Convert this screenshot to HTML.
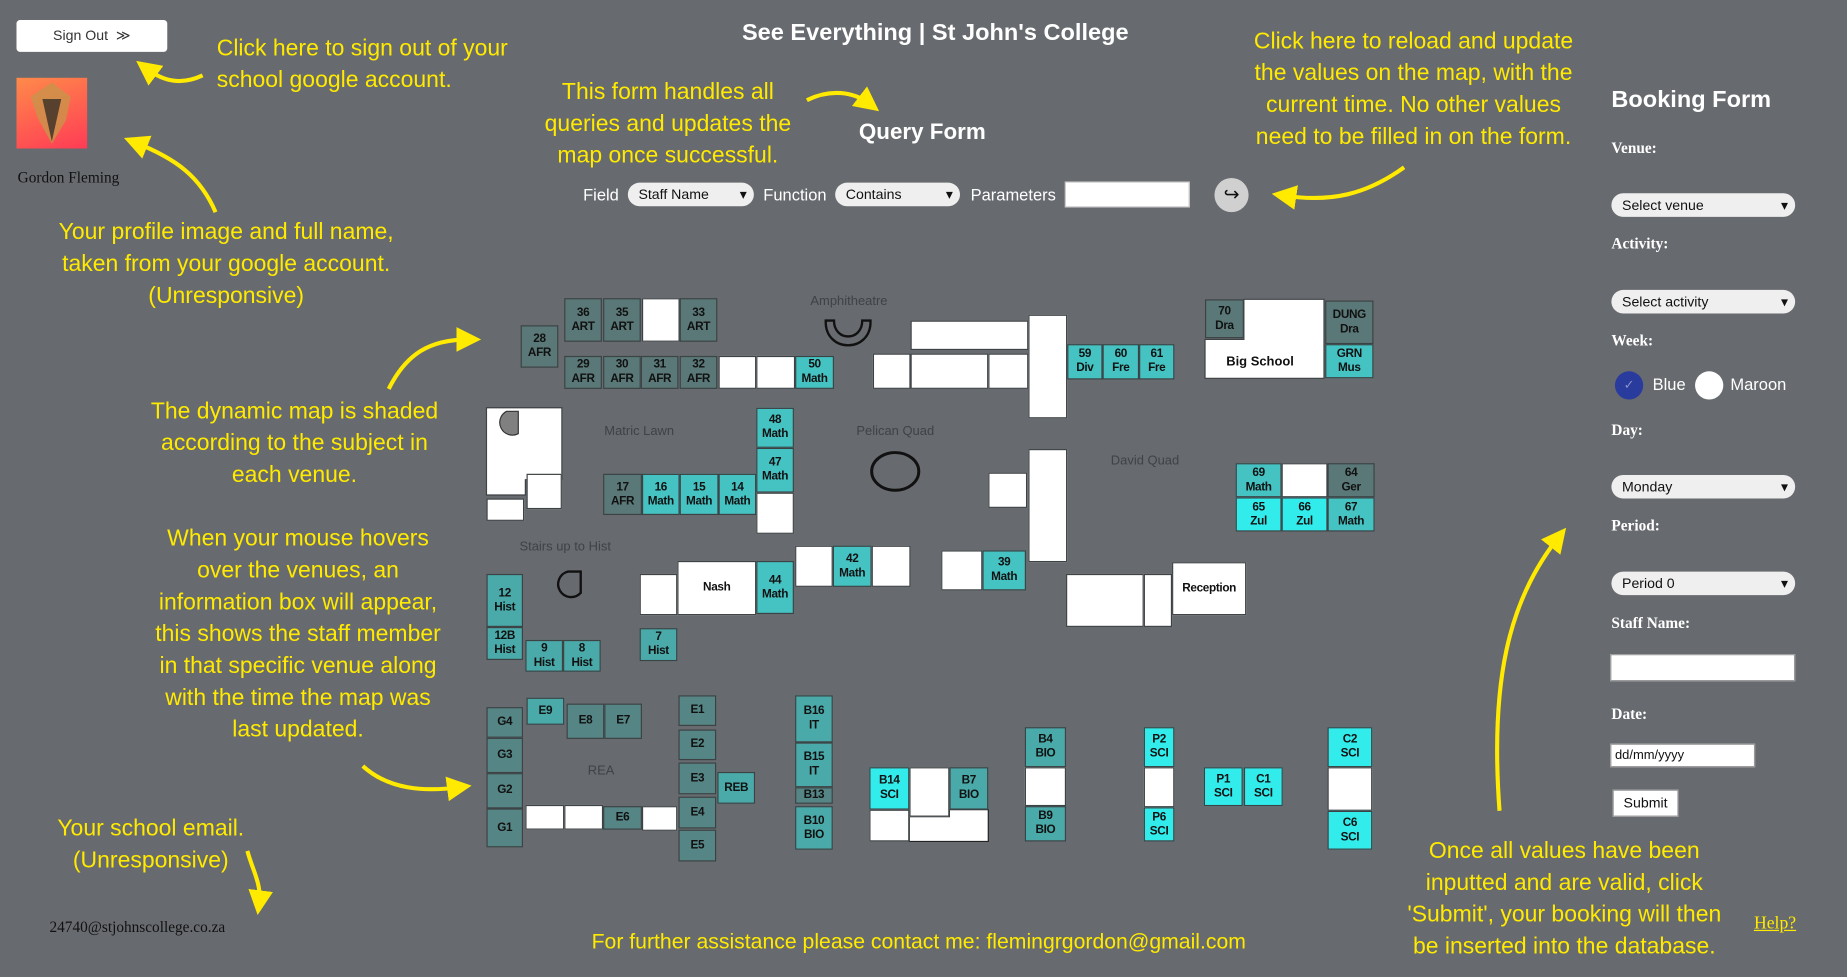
<!DOCTYPE html>
<html><head><meta charset="utf-8"><style>
html,body{margin:0;padding:0;width:1847px;height:977px;overflow:hidden;background:#676a6e}
#root{position:absolute;left:0;top:0;width:1568px;height:829px;transform:scale(1.17793,1.17853);transform-origin:0 0;font-family:"Liberation Sans",sans-serif}
.abs{position:absolute}
.y{position:absolute;color:#ffea00;font-size:19.5px;line-height:27px;text-align:center;white-space:nowrap}
.room{position:absolute;box-sizing:border-box;border:1px solid #3d4244;font-weight:bold;font-size:10px;line-height:12px;color:#111;display:flex;align-items:center;justify-content:center;text-align:center;letter-spacing:-0.3px}
.lbl{position:absolute;color:#3e4346;font-size:11px;white-space:nowrap}
.sel{position:absolute;background:#efefef;border-radius:10px;font-size:12px;color:#111;box-sizing:border-box;padding-left:9px;line-height:20px;height:20px}
.sel:after{content:"▾";position:absolute;right:6px;top:0;font-size:12px}
.fl{position:absolute;color:#fff;font-family:"Liberation Serif",serif;font-weight:bold;font-size:13px}
.ql{position:absolute;color:#fff;font-size:14px}
</style></head><body>
<div id="root">
<div class="abs" style="left:14px;top:17px;width:128px;height:27px;background:#fff;border-radius:3px;font-size:12px;color:#333;text-align:center;line-height:27px">Sign Out &nbsp;≫</div>
<div class="abs" style="left:14px;top:66px;width:60px;height:60px;background:linear-gradient(160deg,#ff8a4a,#ff3b55)">
<svg width="60" height="60"><polygon points="30,4 46,16 42,36 30,56 18,34 12,16" fill="#c9934a" opacity=".8"/><polygon points="22,18 38,18 30,54" fill="#222" opacity=".7"/></svg></div>
<div class="abs" style="left:15px;top:143px;font-family:'Liberation Serif',serif;font-size:13px;color:#111">Gordon Fleming</div>
<div class="abs" style="left:42px;top:779px;font-family:'Liberation Serif',serif;font-size:13px;color:#111">24740@stjohnscollege.co.za</div>

<div class="abs" style="left:594px;top:17px;width:400px;text-align:center;color:#fff;font-weight:bold;font-size:20px">See Everything | St John's College</div>
<div class="abs" style="left:683px;top:102px;width:200px;text-align:center;color:#fff;font-weight:bold;font-size:19px">Query Form</div>
<div class="ql" style="left:495px;top:157px">Field</div>
<div class="sel" style="left:533px;top:155px;width:107px">Staff Name</div>
<div class="ql" style="left:648px;top:157px">Function</div>
<div class="sel" style="left:709px;top:155px;width:106px">Contains</div>
<div class="ql" style="left:824px;top:157px">Parameters</div>
<div class="abs" style="left:904px;top:154px;width:106px;height:22px;background:#fff;border:1px solid #ccc;box-sizing:border-box"></div>
<div class="abs" style="left:1031px;top:151px;width:29px;height:29px;border-radius:50%;background:#d0d0d0;text-align:center;line-height:29px;font-size:16px;color:#111">↪</div>

<div class="abs" style="left:1368px;top:74px;color:#fff;font-weight:bold;font-size:20px">Booking Form</div>
<div class="fl" style="left:1368px;top:118px">Venue:</div>
<div class="sel" style="left:1368px;top:164px;width:156px">Select venue</div>
<div class="fl" style="left:1368px;top:199px">Activity:</div>
<div class="sel" style="left:1368px;top:246px;width:156px">Select activity</div>
<div class="fl" style="left:1368px;top:281px">Week:</div>
<div class="abs" style="left:1371px;top:315px;width:24px;height:24px;border-radius:50%;background:#2a3b9e;color:#8890c8;font-size:11px;text-align:center;line-height:24px">✓</div>
<div class="abs" style="left:1403px;top:318px;color:#fff;font-size:14px">Blue</div>
<div class="abs" style="left:1439px;top:315px;width:24px;height:24px;border-radius:50%;background:#fff"></div>
<div class="abs" style="left:1469px;top:318px;color:#fff;font-size:14px">Maroon</div>
<div class="fl" style="left:1368px;top:357px">Day:</div>
<div class="sel" style="left:1368px;top:403px;width:156px">Monday</div>
<div class="fl" style="left:1368px;top:438px">Period:</div>
<div class="sel" style="left:1368px;top:485px;width:156px">Period 0</div>
<div class="fl" style="left:1368px;top:521px">Staff Name:</div>
<div class="abs" style="left:1367px;top:555px;width:157px;height:23px;background:#fff;border:1px solid #999;box-sizing:border-box"></div>
<div class="fl" style="left:1368px;top:598px">Date:</div>
<div class="abs" style="left:1367px;top:631px;width:123px;height:20px;background:#fff;border:1px solid #999;box-sizing:border-box;font-size:11px;padding-left:3px;line-height:18px;color:#111">dd/mm/yyyy</div>
<div class="abs" style="left:1369px;top:670px;width:56px;height:23px;background:#fff;border:1px solid #999;box-sizing:border-box;font-size:12px;text-align:center;line-height:21px;color:#111">Submit</div>
<div class="abs" style="left:1489px;top:776px;color:#ffea00;font-family:'Liberation Serif',serif;font-size:15px;text-decoration:underline">Help?</div>

<div class="y" style="left:184px;top:28px;text-align:left">Click here to sign out of your<br>school google account.</div>
<div class="y" style="left:417px;top:65px;width:300px">This form handles all<br>queries and updates the<br>map once successful.</div>
<div class="y" style="left:1030px;top:22px;width:340px">Click here to reload and update<br>the values on the map, with the<br>current time. No other values<br>need to be filled in on the form.</div>
<div class="y" style="left:12px;top:184px;width:360px">Your profile image and full name,<br>taken from your google account.<br>(Unresponsive)</div>
<div class="y" style="left:100px;top:336px;width:300px">The dynamic map is shaded<br>according to the subject in<br>each venue.</div>
<div class="y" style="left:93px;top:444px;width:320px">When your mouse hovers<br>over the venues, an<br>information box will appear,<br>this shows the staff member<br>in that specific venue along<br>with the time the map was<br>last updated.</div>
<div class="y" style="left:8px;top:690px;width:240px">Your school email.<br>(Unresponsive)</div>
<div class="y" style="left:480px;top:786px;width:600px;font-size:18px">For further assistance please contact me: flemingrgordon@gmail.com</div>
<div class="y" style="left:1158px;top:709px;width:340px">Once all values have been<br>inputted and are valid, click<br>'Submit', your booking will then<br>be inserted into the database.</div>

<svg class="abs" style="left:0;top:0" width="1568" height="829">
<defs><marker id="ah" markerWidth="6" markerHeight="6" refX="3" refY="3" orient="auto"><path d="M0,0 L6,3 L0,6 Z" fill="#ffea00"/></marker></defs>
<g fill="none" stroke="#ffea00" stroke-width="3.5" marker-end="url(#ah)">
<path d="M172,64 C155,72 140,70 124,58"/>
<path d="M183,180 C170,150 150,135 115,121"/>
<path d="M330,330 C345,300 365,288 398,288"/>
<path d="M308,650 C330,670 360,672 390,668"/>
<path d="M210,722 C215,740 222,750 220,766"/>
<path d="M685,85 C705,75 725,78 738,88"/>
<path d="M1192,142 C1160,165 1130,172 1090,166"/>
<path d="M1273,688 C1265,580 1280,510 1323,456"/>
</g>
<g fill="none" stroke="#111" stroke-width="2.5">
<path d="M701,272 C700,300 740,300 739,272 L732,272 C732,290 708,290 708,272 Z" stroke-width="2"/>
<ellipse cx="760" cy="400" rx="20" ry="16"/>
<path d="M493,485 L493,503 A11,11 0 1 1 482,485 Z" stroke-width="2"/>
</g>
<path d="M1056,254 L1124,254 L1124,321 L1023,321 L1023,288 L1056,288 Z" fill="#fff" stroke="#3d4244"/>
<path d="M413,346 L477,346 L477,407 L446,407 L446,420 L413,420 Z" fill="#fff" stroke="#3d4244"/>
<path d="M440,349 L440,368 A10,10 0 1 1 430,349 Z" fill="#808080" stroke="#333"/>
<path d="M772,687 L772,693 L806,693 L806,687 L839,687 L839,714 L772,714 Z" fill="#fff" stroke="#222"/>
</svg>
<div class="abs" style="left:1041px;top:301px;font-weight:bold;font-size:11px;color:#111">Big School</div>
<div class="lbl" style="left:688px;top:250px">Amphitheatre</div>
<div class="lbl" style="left:513px;top:360px">Matric Lawn</div>
<div class="lbl" style="left:727px;top:360px">Pelican Quad</div>
<div class="lbl" style="left:943px;top:385px">David Quad</div>
<div class="lbl" style="left:441px;top:458px">Stairs up to Hist</div>
<div class="lbl" style="left:499px;top:648px">REA</div>
<div id="map"></div>
<script>
var D="#5a7878",T="#4aa9a9",M="#45c2c2",C="#32ecec",W="#ffffff",E="#568585";
var rooms=[
[479,253,32,37,"36<br>ART",D],[512,253,32,37,"35<br>ART",D],[545,253,32,37,"",W],[577,253,32,37,"33<br>ART",D],
[442,276,32,36,"28<br>AFR",D],
[479,302,32,28,"29<br>AFR",D],[512,302,32,28,"30<br>AFR",D],[544,302,32,28,"31<br>AFR",D],[577,302,32,28,"32<br>AFR",D],
[610,302,32,28,"",W],[642,302,33,28,"",W],[675,302,33,28,"50<br>Math",M],
[773,272,100,25,"",W],[741,300,32,30,"",W],[773,300,66,30,"",W],[839,300,34,30,"",W],[873,267,33,88,"",W],
[906,292,30,30,"59<br>Div",M],[936,292,31,30,"60<br>Fre",M],[967,292,30,30,"61<br>Fre",M],
[1023,254,33,33,"70<br>Dra",D],[1125,255,41,37,"DUNG<br>Dra",D],[1125,292,41,29,"GRN<br>Mus",M],
[447,402,30,30,"",W],[413,423,32,19,"",W],
[512,402,33,35,"17<br>AFR",D],[545,402,32,35,"16<br>Math",M],[577,402,33,35,"15<br>Math",M],[610,402,32,35,"14<br>Math",M],
[642,346,32,34,"48<br>Math",M],[642,380,32,38,"47<br>Math",M],[642,418,32,35,"",W],
[413,487,31,45,"12<br>Hist",T],[413,532,31,28,"12B<br>Hist",T],[446,543,32,27,"9<br>Hist",T],[478,543,32,27,"8<br>Hist",T],
[543,487,32,35,"",W],[575,476,67,46,"Nash",W],[642,476,32,45,"44<br>Math",M],
[675,463,32,35,"",W],[707,463,33,35,"42<br>Math",M],[740,463,33,35,"",W],
[799,467,35,34,"",W],[834,467,37,34,"39<br>Math",M],[543,533,32,28,"7<br>Hist",T],
[873,381,33,96,"",W],[839,401,33,30,"",W],
[1049,393,39,29,"69<br>Math",M],[1088,393,39,29,"",W],[1127,393,40,29,"64<br>Ger",D],
[1049,422,39,29,"65<br>Zul",C],[1088,422,39,29,"66<br>Zul",C],[1127,422,40,29,"67<br>Math",M],
[995,477,63,45,"Reception",W],[905,487,66,45,"",W],[971,487,24,45,"",W],
[413,600,31,26,"G4",E],[413,626,31,30,"G3",E],[413,656,31,30,"G2",E],[413,686,31,33,"G1",E],
[447,592,32,23,"E9",T],[481,597,32,30,"E8",E],[513,597,32,30,"E7",E],
[576,590,32,26,"E1",E],[576,619,32,26,"E2",E],[576,647,32,27,"E3",E],[576,676,32,27,"E4",E],[576,704,32,27,"E5",E],[609,655,32,27,"REB",T],
[446,683,33,21,"",W],[479,683,33,21,"",W],[512,684,33,20,"E6",E],[545,684,30,21,"",W],
[675,590,32,40,"B16<br>IT",T],[675,630,32,38,"B15<br>IT",T],[675,668,32,14,"B13",E],[675,684,32,37,"B10<br>BIO",T],
[738,651,34,36,"B14<br>SCI",C],[772,651,34,42,"",W],[806,651,33,36,"B7<br>BIO",T],[738,687,34,27,"",W],
[870,617,35,34,"B4<br>BIO",T],[870,651,35,33,"",W],[870,684,35,30,"B9<br>BIO",T],
[971,617,26,34,"P2<br>SCI",C],[971,651,26,34,"",W],[971,685,26,29,"P6<br>SCI",C],
[1022,651,33,33,"P1<br>SCI",C],[1056,651,33,33,"C1<br>SCI",C],
[1127,617,38,34,"C2<br>SCI",C],[1127,651,38,37,"",W],[1127,688,38,33,"C6<br>SCI",C]
];
var map=document.getElementById('map');
rooms.forEach(function(r){
var d=document.createElement('div');
d.className='room';
d.style.cssText='left:'+r[0]+'px;top:'+r[1]+'px;width:'+r[2]+'px;height:'+r[3]+'px;background:'+r[5];
d.innerHTML=r[4];


map.appendChild(d);
});
</script>
</div>
</body></html>
